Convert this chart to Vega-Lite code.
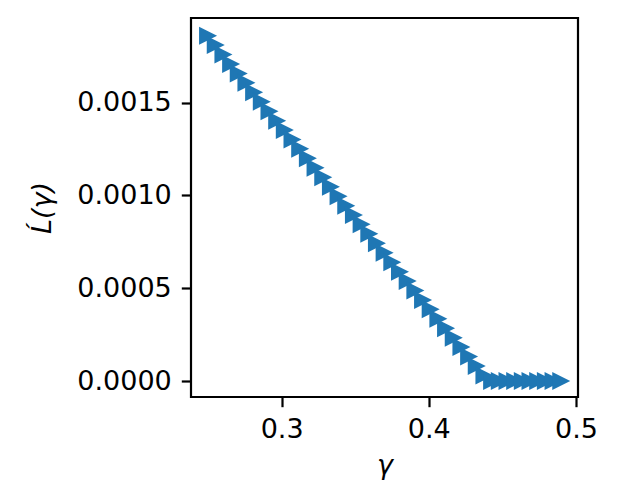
{
  "$schema": "https://vega.github.io/schema/vega-lite/v6.json",
  "width": 387,
  "height": 379,
  "autosize": {"type": "none"},
  "padding": {"left": 191, "top": 18, "right": 39, "bottom": 107},
  "background": "white",
  "config": {
    "view": {"stroke": "black", "strokeWidth": 2.2},
    "font": "DejaVu Sans",
    "axis": {
      "grid": false,
      "domain": false,
      "tickColor": "black",
      "tickWidth": 2.2,
      "tickSize": 9.7,
      "labelFont": "DejaVu Sans",
      "labelFontSize": 27,
      "labelColor": "black",
      "titleFont": "DejaVu Sans",
      "titleFontSize": 27,
      "titleFontWeight": "normal",
      "titleFontStyle": "italic",
      "titleColor": "black"
    }
  },
  "data": {
    "values": [
      {"g": 0.25000, "L": 0.001861},
      {"g": 0.25522, "L": 0.001810},
      {"g": 0.26043, "L": 0.001759},
      {"g": 0.26565, "L": 0.001708},
      {"g": 0.27087, "L": 0.001657},
      {"g": 0.27609, "L": 0.001607},
      {"g": 0.28130, "L": 0.001556},
      {"g": 0.28652, "L": 0.001505},
      {"g": 0.29174, "L": 0.001454},
      {"g": 0.29696, "L": 0.001403},
      {"g": 0.30217, "L": 0.001352},
      {"g": 0.30739, "L": 0.001301},
      {"g": 0.31261, "L": 0.001251},
      {"g": 0.31783, "L": 0.001200},
      {"g": 0.32304, "L": 0.001149},
      {"g": 0.32826, "L": 0.001098},
      {"g": 0.33348, "L": 0.001047},
      {"g": 0.33870, "L": 0.000996},
      {"g": 0.34391, "L": 0.000945},
      {"g": 0.34913, "L": 0.000895},
      {"g": 0.35435, "L": 0.000844},
      {"g": 0.35957, "L": 0.000793},
      {"g": 0.36478, "L": 0.000742},
      {"g": 0.37000, "L": 0.000691},
      {"g": 0.37522, "L": 0.000640},
      {"g": 0.38043, "L": 0.000589},
      {"g": 0.38565, "L": 0.000539},
      {"g": 0.39087, "L": 0.000488},
      {"g": 0.39609, "L": 0.000437},
      {"g": 0.40130, "L": 0.000386},
      {"g": 0.40652, "L": 0.000335},
      {"g": 0.41174, "L": 0.000284},
      {"g": 0.41696, "L": 0.000233},
      {"g": 0.42217, "L": 0.000183},
      {"g": 0.42739, "L": 0.000132},
      {"g": 0.43261, "L": 0.000081},
      {"g": 0.43783, "L": 0.000030},
      {"g": 0.44304, "L": 0.0},
      {"g": 0.44826, "L": 0.0},
      {"g": 0.45348, "L": 0.0},
      {"g": 0.45870, "L": 0.0},
      {"g": 0.46391, "L": 0.0},
      {"g": 0.46913, "L": 0.0},
      {"g": 0.47435, "L": 0.0},
      {"g": 0.47957, "L": 0.0},
      {"g": 0.48478, "L": 0.0},
      {"g": 0.49000, "L": 0.0}
    ]
  },
  "mark": {"type": "point", "shape": "M-1,-1L1,0L-1,1Z", "filled": true, "color": "#1f77b4", "opacity": 1, "size": 324},
  "encoding": {
    "x": {
      "field": "g", "type": "quantitative",
      "scale": {"domain": [0.2384, 0.5014], "nice": false, "zero": false},
      "axis": {"title": "γ", "values": [0.3, 0.4, 0.5], "format": ".1f", "labelPadding": 10, "titlePadding": 10}
    },
    "y": {
      "field": "L", "type": "quantitative",
      "scale": {"domain": [-0.0000862, 0.001956], "nice": false, "zero": false},
      "axis": {"title": "L\u0301(γ)", "values": [0, 0.0005, 0.001, 0.0015], "format": ".4f", "labelPadding": 10, "titlePadding": 20}
    }
  }
}
